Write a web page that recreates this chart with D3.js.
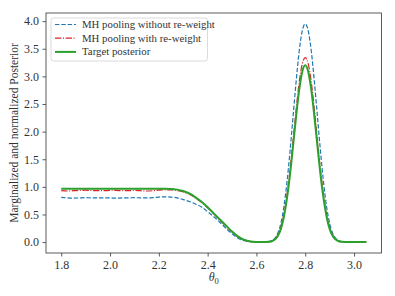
<!DOCTYPE html>
<html><head><meta charset="utf-8">
<script src="https://cdn.jsdelivr.net/npm/d3@7"></script>
<style>html,body{margin:0;padding:0;background:#fff;}svg{display:block;}</style>
</head><body>
<svg id="chart" width="395" height="296"></svg>
<script>
const theta = [1.8,1.825,1.85,1.875,1.9,1.925,1.95,1.975,2.0,2.025,2.05,2.075,2.1,2.125,2.15,2.175,2.2,2.225,2.25,2.275,2.3,2.325,2.35,2.375,2.4,2.425,2.45,2.475,2.5,2.525,2.55,2.575,2.6,2.625,
 2.65,2.6625,2.675,2.6875,2.7,2.7125,2.725,2.7375,2.75,2.7625,2.775,2.7875,2.8,2.8125,2.825,2.8375,2.85,2.8625,2.875,2.8875,2.9,2.9125,2.925,2.9375,2.95,
 2.975,3.0,3.025,3.05];
const noReweight = [0.81,0.80,0.795,0.80,0.805,0.80,0.80,0.80,0.80,0.795,0.80,0.80,0.805,0.80,0.80,0.805,0.815,0.82,0.815,0.80,0.77,0.735,0.69,0.635,0.55,0.46,0.36,0.25,0.15,0.07,0.025,0.008,0.002,0.0005,
 0.008,0.024,0.065,0.16,0.34,0.64,1.08,1.64,2.27,2.90,3.45,3.82,3.95,3.82,3.45,2.90,2.27,1.64,1.08,0.64,0.34,0.16,0.065,0.024,0.008,
 0.002,0,0,0];
const withReweight = [0.93,0.925,0.93,0.935,0.94,0.935,0.93,0.93,0.935,0.935,0.93,0.93,0.935,0.93,0.925,0.93,0.94,0.945,0.945,0.935,0.91,0.865,0.80,0.72,0.62,0.51,0.40,0.29,0.18,0.095,0.04,0.012,0.003,0.001,
 0.007,0.02,0.055,0.13,0.27,0.50,0.85,1.30,1.84,2.39,2.89,3.22,3.34,3.22,2.89,2.39,1.84,1.30,0.85,0.50,0.27,0.13,0.055,0.02,0.007,
 0.002,0,0,0];
const target = [0.965,0.965,0.965,0.965,0.965,0.965,0.965,0.965,0.965,0.965,0.965,0.965,0.965,0.965,0.965,0.965,0.965,0.965,0.962,0.95,0.925,0.88,0.81,0.73,0.63,0.52,0.41,0.30,0.19,0.10,0.04,0.012,0.003,0.001,
 0.005,0.016,0.045,0.11,0.24,0.46,0.79,1.22,1.74,2.27,2.75,3.08,3.20,3.08,2.75,2.27,1.74,1.22,0.79,0.46,0.24,0.11,0.045,0.016,0.005,
 0.001,0,0,0];
const xTicks = [1.8,2.0,2.2,2.4,2.6,2.8,3.0];
const yTicks = [0.0,0.5,1.0,1.5,2.0,2.5,3.0,3.5,4.0];
const seriesNames = ["MH pooling without re-weight","MH pooling with re-weight","Target posterior"];
const seriesColors = ["#1f77b4","#d62728","#2ca02c"];
const seriesDash = ["4.4,1.9","6.4,1.6,1,1.6",null];
const seriesWidth = [1.2,1.2,2];
const seriesData = [noReweight, withReweight, target];

const svg = d3.select("#chart");
const L = 46, R = 381.5, T = 13, B = 253;
const x = d3.scaleLinear().domain([1.7375, 3.1125]).range([L, R]);
const y = d3.scaleLinear().domain([-0.1975, 4.1475]).range([B, T]);
const font = "'Liberation Serif','Times New Roman',serif";

const line = d3.line().x(d => x(d[0])).y(d => y(d[1])).curve(d3.curveMonotoneX);
seriesData.forEach((s, i) => {
  svg.append("path")
    .datum(theta.map((t, j) => [t, s[j]]))
    .attr("d", line)
    .attr("fill", "none")
    .attr("stroke", seriesColors[i])
    .attr("stroke-width", seriesWidth[i])
    .attr("stroke-dasharray", seriesDash[i])
    .attr("stroke-linejoin", "round");
});

// frame
svg.append("rect").attr("x", L).attr("y", T).attr("width", R - L).attr("height", B - T)
  .attr("fill", "none").attr("stroke", "#333").attr("stroke-width", 0.8);

const xAxis = svg.append("g").attr("transform", `translate(0,${B})`)
  .call(d3.axisBottom(x).tickValues(xTicks).tickFormat(d3.format(".1f")).tickSize(3.5).tickPadding(3.5));
const yAxis = svg.append("g").attr("transform", `translate(${L},0)`)
  .call(d3.axisLeft(y).tickValues(yTicks).tickFormat(d3.format(".1f")).tickSize(3.5).tickPadding(3.5));
[xAxis, yAxis].forEach(a => {
  a.select(".domain").remove();
  a.selectAll("line").attr("stroke", "#333").attr("stroke-width", 0.8);
  a.selectAll("text").attr("fill", "#333").style("font-family", font).style("font-size", "12px");
});

// axis labels
const xl = svg.append("text").attr("x", (L + R) / 2).attr("y", 281).attr("text-anchor", "middle")
  .style("font-family", font).style("font-size", "12px").attr("fill", "#333");
xl.append("tspan").style("font-style", "italic").text("θ");
xl.append("tspan").attr("dy", 2.5).style("font-size", "8.5px").text("0");

svg.append("text").attr("transform", `translate(18,${(T + B) / 2}) rotate(-90)`)
  .attr("text-anchor", "middle").style("font-family", font).style("font-size", "11.5px")
  .attr("fill", "#333").text("Marginalized and normalized Posterior");

// legend
const lg = svg.append("g");
lg.append("rect").attr("x", 51).attr("y", 18).attr("width", 156.5).attr("height", 43).attr("rx", 2.5)
  .attr("fill", "#fff").attr("fill-opacity", 0.8).attr("stroke", "#d0d0d0").attr("stroke-width", 0.8);
seriesNames.forEach((n, i) => {
  const yy = 24.5 + i * 13.7;
  lg.append("line").attr("x1", 55).attr("x2", 76).attr("y1", yy).attr("y2", yy)
    .attr("stroke", seriesColors[i]).attr("stroke-width", seriesWidth[i]).attr("stroke-dasharray", seriesDash[i]);
  lg.append("text").attr("x", 82).attr("y", yy + 3.5).style("font-family", font).style("font-size", "10.8px")
    .attr("fill", "#333").text(n);
});
</script>
</body></html>
